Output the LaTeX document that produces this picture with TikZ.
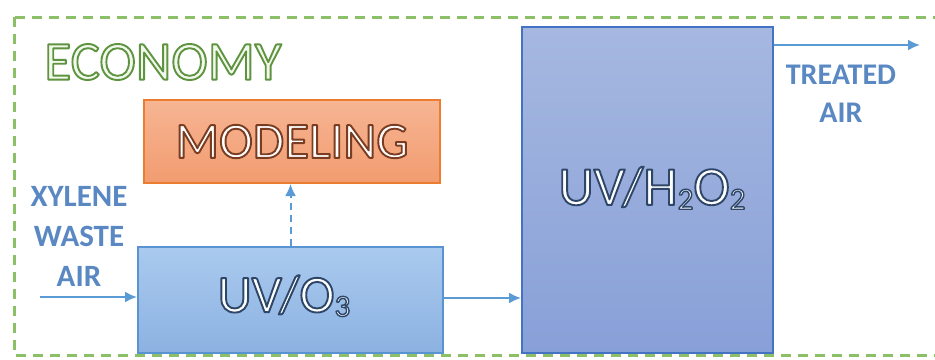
\documentclass[tikz,border=0pt]{standalone}
\usepackage{fontspec}
\setmainfont{Carlito}
\usetikzlibrary{arrows.meta}
\definecolor{framegreen}{HTML}{8CC068}
\definecolor{econfill}{HTML}{F2F8EC}
\definecolor{orgtop}{HTML}{F6B593}
\definecolor{orgbot}{HTML}{F29C70}
\definecolor{orgline}{HTML}{EC7C30}
\definecolor{bltop}{HTML}{AACAEE}
\definecolor{blbot}{HTML}{8CB2E2}
\definecolor{blline}{HTML}{5A93D2}
\definecolor{pbtop}{HTML}{A6B8E0}
\definecolor{pbbot}{HTML}{88A0D8}
\definecolor{pbline}{HTML}{4472C4}
\definecolor{arrblue}{HTML}{5B9BD5}
\definecolor{lblblue}{HTML}{5A88C2}
% outlined text: #1 = stroke colour as "r g b", #2 = fill colour name, #3 = text
\newcommand{\outl}[3]{{\color{#2}\special{pdf:literal direct 2 Tr 1.9 w 1 j #1 RG}#3\special{pdf:literal direct 0 Tr}}}
\newcommand{\subn}[1]{\raisebox{-0.08em}{\fontsize{31}{31}\selectfont\special{pdf:literal direct 1.4 w}#1\special{pdf:literal direct 1.9 w}}}
\begin{document}
\begin{tikzpicture}[x=1pt,y=-1pt,
  boxbase/.style={draw,line width=2pt,inner sep=0pt},
  modbox/.style={boxbase,draw=orgline,top color=orgtop,bottom color=orgbot,minimum width=296pt,minimum height=83pt},
  o3box/.style={boxbase,draw=blline,top color=bltop,bottom color=blbot,minimum width=305pt,minimum height=106pt},
  h2box/.style={boxbase,draw=pbline,top color=pbtop,bottom color=pbbot,minimum width=251pt,minimum height=326pt},
  bigfont/.style={font=\fontsize{53}{53}\selectfont},
  lbl/.style={text=lblblue,align=center,font=\bfseries\fontsize{31}{40}\selectfont},
  flow/.style={draw=arrblue,line width=2pt,-{Latex[length=12pt,width=11pt]}},
  frame/.style={draw=framegreen,line width=3pt,dash pattern=on 10pt off 7pt}
]
\useasboundingbox (0,0) rectangle (935,359);
\clip (0,0) rectangle (935,359);
\draw[frame] (14,17) rectangle (965,355);
\node[font=\fontsize{55}{55}\selectfont] (econ) at (163,62) {\outl{0.37 0.58 0.25}{econfill}{ECONOMY}};
\node[modbox] (mod) at (292,141.5) {};
\node[font=\fontsize{51}{51}\selectfont] (modt) at (mod.center) {\outl{0.48 0.24 0.13}{white}{MODELING}};
\node[o3box] (o3) at (290.5,300) {};
\node[bigfont] (o3t) at (284,296) {\outl{0.18 0.28 0.41}{white}{UV/O\subn{3}}};
\node[h2box] (h2) at (647.5,190) {};
\node[bigfont,font=\fontsize{55}{55}\selectfont] (h2t) at (652,188) {\outl{0.18 0.28 0.41}{white}{UV/H\subn{2}O\subn{2}}};
\node[lbl] (inlbl) at (79,236) {XYLENE\\WASTE\\AIR};
\node[lbl,font=\bfseries\fontsize{30}{38}\selectfont] (outlbl) at (841,94) {TREATED\\AIR};
\coordinate (in) at (40,297);
\coordinate (out) at (920,45);
\draw[flow] (in) -- (in -| o3.west);
\draw[flow] (o3.east |- 0,298) -- (h2.west |- 0,298);
\draw[flow] (h2.east |- out) -- (out);
\draw[flow,dash pattern=on 7pt off 5pt] (o3.north) -- (o3.north |- mod.south);
\end{tikzpicture}
\end{document}
